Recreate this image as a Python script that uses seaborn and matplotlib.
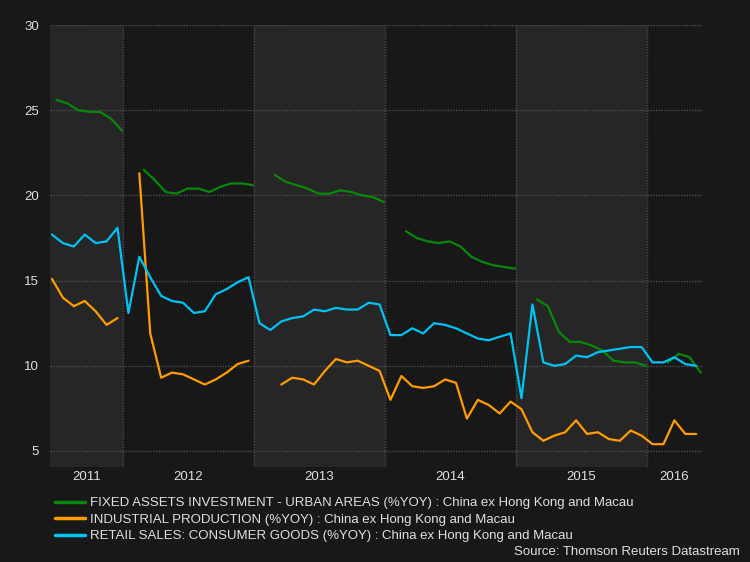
import numpy as np
import pandas as pd
import matplotlib
matplotlib.use("Agg")
import matplotlib.pyplot as plt
from matplotlib.lines import Line2D
import seaborn as sns

nan = np.nan
# months from Jun 2011 to May 2016
months = pd.period_range("2011-06", "2016-05", freq="M")

fai = [25.6, 25.4, 25.0, 24.9, 24.9, 24.5, 23.8,
       nan, 21.5, 20.9, 20.2, 20.1, 20.4, 20.4, 20.2, 20.5, 20.7, 20.7, 20.6,
       nan, 21.2, 20.8, 20.6, 20.4, 20.1, 20.1, 20.3, 20.2, 20.0, 19.9, 19.6,
       nan, 17.9, 17.5, 17.3, 17.2, 17.3, 17.0, 16.4, 16.1, 15.9, 15.8, 15.7,
       nan, 13.9, 13.5, 12.0, 11.4, 11.4, 11.2, 10.9, 10.3, 10.2, 10.2, 10.0,
       nan, 10.2, 10.7, 10.5, 9.6]

ip = [15.1, 14.0, 13.5, 13.8, 13.2, 12.4, 12.8,
      nan, 21.3, 11.9, 9.3, 9.6, 9.5, 9.2, 8.9, 9.2, 9.6, 10.1, 10.3,
      nan, nan, 8.9, 9.3, 9.2, 8.9, 9.7, 10.4, 10.2, 10.3, 10.0, 9.7,
      8.0, 9.4, 8.8, 8.7, 8.8, 9.2, 9.0, 6.9, 8.0, 7.7, 7.2, 7.9,
      7.45, 6.1, 5.6, 5.9, 6.1, 6.8, 6.0, 6.1, 5.7, 5.6, 6.2, 5.9,
      5.4, 5.4, 6.8, 6.0, 6.0]

retail = [17.7, 17.2, 17.0, 17.7, 17.2, 17.3, 18.1,
          13.1, 16.4, 15.2, 14.1, 13.8, 13.7, 13.1, 13.2, 14.2, 14.5, 14.9, 15.2,
          12.5, 12.1, 12.6, 12.8, 12.9, 13.3, 13.2, 13.4, 13.3, 13.3, 13.7, 13.6,
          11.8, 11.8, 12.2, 11.9, 12.5, 12.4, 12.2, 11.9, 11.6, 11.5, 11.7, 11.9,
          8.1, 13.6, 10.2, 10.0, 10.1, 10.6, 10.5, 10.8, 10.9, 11.0, 11.1, 11.1,
          10.2, 10.2, 10.5, 10.1, 10.0]

series_names = [
    "FIXED ASSETS INVESTMENT - URBAN AREAS (%YOY) : China ex Hong Kong and Macau",
    "INDUSTRIAL PRODUCTION (%YOY) : China ex Hong Kong and Macau",
    "RETAIL SALES: CONSUMER GOODS (%YOY) : China ex Hong Kong and Macau",
]
series_colors = ["#08870a", "#ff9c00", "#00c3f5"]
series_offsets = [0.91, 0.5, 0.5]  # position of point within its month

years = ["2011", "2012", "2013", "2014", "2015", "2016"]
yticks = [5, 10, 15, 20, 25, 30]
source_text = "Source: Thomson Reuters Datastream"

# month index since Jan 2011
midx = np.array([(p.year - 2011) * 12 + p.month - 1 for p in months], dtype=float)

rows = []
for name, vals, off in zip(series_names, [fai, ip, retail], series_offsets):
    seg = 0
    prev_nan = True
    for m, v in zip(midx, vals):
        if np.isnan(v):
            prev_nan = True
            continue
        if prev_nan:
            seg += 1
            prev_nan = False
        rows.append({"x": m + off, "value": v, "series": name, "seg": f"{name}-{seg}"})
df = pd.DataFrame(rows)

sns.set_theme(style="dark")
bg = "#181818"
band = "#262626"
txt = "#e0e0e0"
font = ["Liberation Sans Narrow", "Liberation Sans", "DejaVu Sans"]
plt.rcParams["font.family"] = font

fig = plt.figure(figsize=(7.5, 5.62), dpi=100, facecolor=bg)
ax = fig.add_axes([50 / 750, 1 - 467 / 562, 652 / 750, 442 / 562])
ax.set_facecolor(bg)

xmin, xmax = 5.32, 65.03
ax.set_xlim(xmin, xmax)
ax.set_ylim(4.06, 30)

# shaded year bands
for a, b in [(xmin, 12), (24, 36), (48, 60)]:
    ax.axvspan(a, b, color=band, zorder=0, lw=0)
for b in [12, 24, 36, 48, 60]:
    ax.axvline(b, color="#4a4a4a", lw=1, ls=(0, (1, 1)), zorder=1)
for y in yticks:
    ax.axhline(y, color="#4f4f4f", lw=1, ls=(0, (1, 1)), zorder=1)

sns.lineplot(data=df, x="x", y="value", hue="series", units="seg", estimator=None,
             palette=dict(zip(series_names, series_colors)), hue_order=series_names,
             lw=1.6, ax=ax, legend=False, zorder=3)

ax.grid(False)
for s in ax.spines.values():
    s.set_visible(False)

ax.set_yticks(yticks)
ax.set_yticklabels([str(t) for t in yticks])
year_pos = [(xmin + 12) / 2, 18, 30, 42, 54, (60 + xmax) / 2]
ax.set_xticks(year_pos)
ax.set_xticklabels(years)
ax.tick_params(axis="both", length=0, colors=txt, labelsize=9.5)
ax.tick_params(axis="y", pad=8)
ax.tick_params(axis="x", pad=3)
ax.set_xlabel("")
ax.set_ylabel("")

handles = [Line2D([0], [0], color=c, lw=2.5) for c in series_colors]
leg = fig.legend(handles, series_names, loc="upper left",
                 bbox_to_anchor=(55 / 750, 1 - 497 / 562), frameon=False,
                 fontsize=9.5, labelcolor=txt, handlelength=2.3, handletextpad=0.35,
                 labelspacing=0.32, borderpad=0, borderaxespad=0)

fig.text(740 / 750, 1 - 552 / 562, source_text, ha="right", va="center",
         color=txt, fontsize=9.5)

fig.savefig("out.png", dpi=100, facecolor=bg)
